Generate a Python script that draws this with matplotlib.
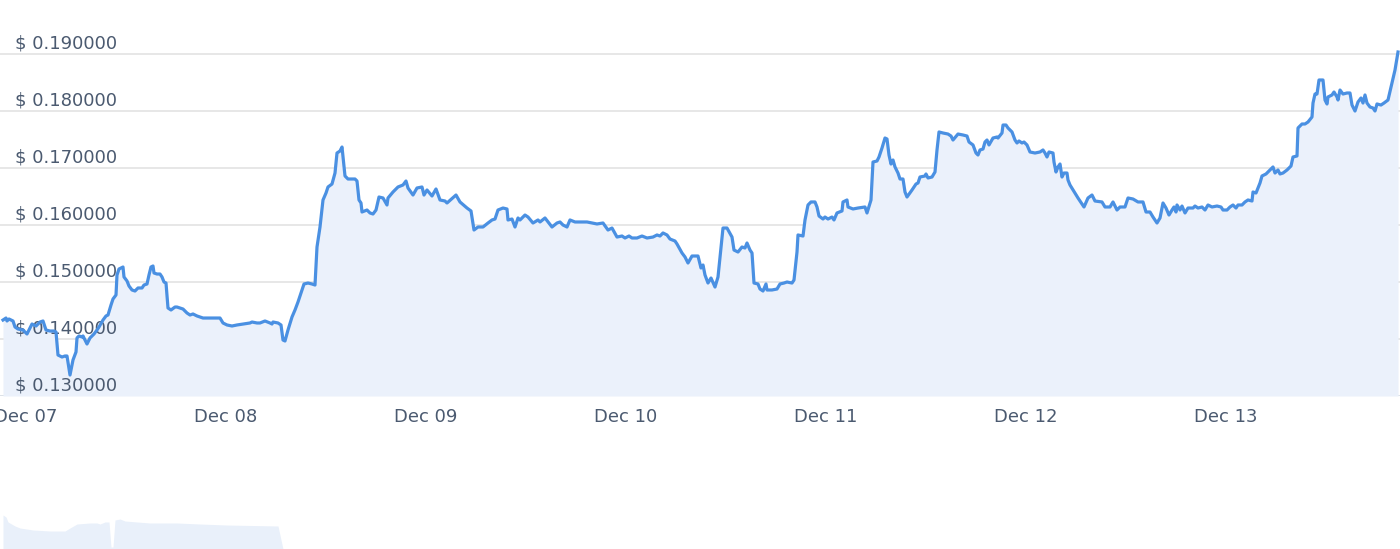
import matplotlib
matplotlib.use("Agg")
import matplotlib.pyplot as plt
from matplotlib.transforms import blended_transform_factory, offset_copy

# hours since Dec 07 00:00
hours = [-2.76, -2.4, -2.28, -2.04, -1.56, -1.32, -0.96, -0.36, 0.12, 0.48, 0.72, 1.2, 1.68, 2.04, 2.4, 2.88,
         3.36, 3.6, 3.84, 4.32, 4.68, 4.92, 5.28, 5.64, 6.0, 6.12, 6.36, 6.72, 6.84, 7.32, 7.68, 8.16, 8.52,
         8.76, 9.24, 9.6, 9.84, 10.2, 10.44, 10.8, 10.92, 11.16, 11.64, 11.76, 12.12, 12.36, 12.72, 13.08,
         13.44, 13.92, 14.16, 14.52, 14.76, 15.0, 15.24, 15.36, 15.72, 16.08, 16.32, 16.56, 16.8, 17.04,
         17.4, 17.88, 18.12, 18.84, 19.32, 19.68, 20.04, 20.52, 20.88, 21.24, 21.72, 22.44, 23.28, 23.64,
         24.12, 24.72, 25.32, 26.04, 26.88, 27.12, 27.72, 28.08, 28.68, 29.28, 29.52, 29.64, 30.24, 30.6,
         30.84, 31.08, 31.44, 31.92, 32.28, 32.64, 33.12, 33.36, 33.84, 34.32, 34.68, 34.92, 35.28, 35.64,
         36.0, 36.24, 36.72, 37.08, 37.32, 37.68, 37.92, 38.28, 38.64, 39.48, 39.72, 39.96, 40.2, 40.32,
         40.92, 41.28, 41.64, 42.0, 42.36, 42.84, 43.32, 43.44, 44.04, 44.64, 45.24, 45.6, 45.84, 46.44,
         46.92, 47.52, 47.76, 48.12, 48.72, 49.2, 49.68, 50.28, 50.52, 51.6, 52.08, 52.92, 53.4, 53.76,
         54.24, 54.84, 55.44, 55.92, 56.28, 56.64, 57.24, 57.72, 57.84, 58.32, 58.68, 59.04, 59.28, 59.88,
         60.24, 60.84, 61.44, 61.68, 62.28, 63.12, 63.72, 64.08, 64.44, 64.92, 65.28, 65.88, 66.48, 67.32,
         67.92, 68.52, 69.24, 69.84, 70.32, 70.92, 71.52, 71.88, 72.36, 72.72, 73.32, 73.92, 74.52, 75.24,
         75.72, 76.08, 76.44, 76.92, 77.28, 77.88, 78.12, 78.72, 79.08, 79.44, 79.92, 80.64, 81.0, 81.24,
         81.48, 81.84, 82.2, 82.68, 83.04, 83.64, 84.12, 84.72, 84.96, 85.44, 85.92, 86.28, 86.52, 86.88,
         87.12, 87.36, 87.84, 88.08, 88.44, 88.8, 88.92, 89.52, 90.12, 90.48, 90.96, 91.32, 91.92, 92.16,
         92.52, 92.64, 93.24, 93.48, 93.84, 94.2, 94.68, 94.92, 95.16, 95.64, 95.88, 96.24, 96.72, 96.96,
         97.32, 97.92, 98.04, 98.52, 98.64, 99.24, 99.84, 100.68, 100.92, 101.4, 101.64, 102.12, 102.36,
         102.72, 103.08, 103.32, 103.56, 103.8, 104.04, 104.28, 104.64, 104.88, 105.24, 105.48, 105.72,
         106.32, 106.8, 107.04, 107.28, 107.88, 108.0, 108.24, 108.72, 109.08, 109.32, 109.56, 110.04,
         110.64, 111.0, 111.24, 111.84, 112.44, 112.92, 113.16, 113.64, 114.0, 114.24, 114.48, 114.84,
         115.08, 115.32, 115.56, 116.04, 116.52, 116.64, 117.12, 117.24, 117.6, 117.84, 118.32, 118.68,
         118.92, 119.16, 119.52, 119.76, 120.12, 120.48, 121.08, 121.68, 122.04, 122.28, 122.52, 122.76,
         123.24, 123.36, 123.6, 123.84, 124.08, 124.32, 124.56, 124.92, 125.04, 125.28, 125.88, 126.24,
         126.72, 126.96, 127.44, 127.92, 128.28, 129.12, 129.48, 130.08, 130.44, 130.92, 131.28, 131.88,
         132.24, 132.84, 133.44, 134.04, 134.4, 134.88, 135.24, 135.72, 136.08, 136.44, 136.8, 137.16,
         137.52, 137.76, 138.0, 138.12, 138.48, 138.72, 139.08, 139.44, 140.04, 140.28, 140.64, 141.12,
         141.48, 141.84, 142.32, 142.92, 143.4, 143.64, 144.12, 144.48, 144.84, 145.2, 145.44, 145.92,
         146.28, 146.64, 147.12, 147.24, 147.6, 148.08, 148.32, 148.8, 149.04, 149.64, 149.88, 150.24,
         150.48, 150.84, 151.32, 151.8, 152.04, 152.52, 152.64, 153.12, 153.48, 153.84, 154.32, 154.44,
         154.68, 154.92, 155.16, 155.64, 155.88, 156.12, 156.24, 156.72, 156.96, 157.32, 157.44, 157.68,
         158.04, 158.52, 158.88, 159.12, 159.48, 159.84, 160.2, 160.44, 160.68, 160.92, 161.28, 161.64,
         161.88, 162.12, 162.6, 162.96, 163.44, 163.92, 164.28, 164.64]

price = [0.14333, 0.14368, 0.14316, 0.14351, 0.14316, 0.14211, 0.14175, 0.14158, 0.14088, 0.14193, 0.14263,
         0.14228, 0.14298, 0.14316, 0.14158, 0.14140, 0.14140, 0.14123, 0.13719, 0.13684, 0.13702, 0.13702,
         0.13368, 0.13632, 0.13772, 0.14018, 0.14053, 0.14035, 0.14053, 0.13912, 0.14018, 0.14088, 0.14158,
         0.14211, 0.14333, 0.14404, 0.14421, 0.14596, 0.14702, 0.14772, 0.15123, 0.15228, 0.15263, 0.15088,
         0.15018, 0.14930, 0.14860, 0.14842, 0.14895, 0.14895, 0.14947, 0.14965, 0.15123, 0.15263, 0.15281,
         0.15158, 0.15140, 0.15140, 0.15088, 0.15000, 0.14982, 0.14544, 0.14509, 0.14561, 0.14561, 0.14526,
         0.14456, 0.14421, 0.14439, 0.14404, 0.14386, 0.14368, 0.14368, 0.14368, 0.14368, 0.14281, 0.14246,
         0.14228, 0.14246, 0.14263, 0.14281, 0.14298, 0.14281, 0.14281, 0.14316, 0.14281, 0.14263, 0.14298,
         0.14281, 0.14246, 0.13982, 0.13965, 0.14158, 0.14386, 0.14509, 0.14649, 0.14860, 0.14965, 0.14982,
         0.14965, 0.14947, 0.15614, 0.15965, 0.16439, 0.16561, 0.16667, 0.16719, 0.16912, 0.17263, 0.17298,
         0.17368, 0.16860, 0.16807, 0.16807, 0.16772, 0.16439, 0.16386, 0.16228, 0.16263, 0.16211, 0.16193,
         0.16263, 0.16491, 0.16474, 0.16351, 0.16474, 0.16579, 0.16667, 0.16702, 0.16772, 0.16649, 0.16526,
         0.16649, 0.16667, 0.16526, 0.16614, 0.16509, 0.16632, 0.16439, 0.16421, 0.16386, 0.16526, 0.16404,
         0.16298, 0.16246, 0.15912, 0.15965, 0.15965, 0.16035, 0.16088, 0.16105, 0.16263, 0.16298, 0.16281,
         0.16088, 0.16105, 0.15965, 0.16123, 0.16088, 0.16175, 0.16140, 0.16035, 0.16088, 0.16053, 0.16123,
         0.15965, 0.16035, 0.16053, 0.16000, 0.15965, 0.16088, 0.16053, 0.16053, 0.16053, 0.16035, 0.16018,
         0.16035, 0.15912, 0.15947, 0.15789, 0.15807, 0.15772, 0.15807, 0.15772, 0.15772, 0.15807, 0.15772,
         0.15789, 0.15825, 0.15807, 0.15860, 0.15825, 0.15754, 0.15719, 0.15667, 0.15509, 0.15439, 0.15333,
         0.15456, 0.15456, 0.15246, 0.15298, 0.15123, 0.14982, 0.15070, 0.14912, 0.15088, 0.15947, 0.15947,
         0.15789, 0.15561, 0.15526, 0.15614, 0.15596, 0.15684, 0.15561, 0.15509, 0.14982, 0.14965, 0.14877,
         0.14842, 0.14965, 0.14860, 0.14860, 0.14877, 0.14965, 0.14982, 0.15000, 0.14982, 0.15035, 0.15526,
         0.15825, 0.15807, 0.16088, 0.16351, 0.16404, 0.16404, 0.16316, 0.16158, 0.16105, 0.16140, 0.16105,
         0.16140, 0.16088, 0.16211, 0.16246, 0.16404, 0.16439, 0.16316, 0.16281, 0.16298, 0.16316, 0.16211,
         0.16439, 0.17105, 0.17123, 0.17193, 0.17351, 0.17526, 0.17509, 0.17228, 0.17070, 0.17140, 0.17018,
         0.16912, 0.16807, 0.16807, 0.16579, 0.16491, 0.16614, 0.16719, 0.16737, 0.16842, 0.16860, 0.16895,
         0.16825, 0.16842, 0.16930, 0.17316, 0.17632, 0.17614, 0.17596, 0.17561, 0.17491, 0.17596, 0.17579,
         0.17561, 0.17456, 0.17404, 0.17263, 0.17228, 0.17316, 0.17333, 0.17456, 0.17491, 0.17404, 0.17526,
         0.17544, 0.17526, 0.17614, 0.17754, 0.17754, 0.17702, 0.17632, 0.17491, 0.17439, 0.17474, 0.17439,
         0.17456, 0.17404, 0.17281, 0.17263, 0.17281, 0.17316, 0.17263, 0.17193, 0.17281, 0.17263, 0.17105,
         0.16930, 0.17018, 0.17070, 0.16842, 0.16912, 0.16912, 0.16789, 0.16702, 0.16561, 0.16474, 0.16368,
         0.16316, 0.16474, 0.16526, 0.16421, 0.16404, 0.16316, 0.16316, 0.16404, 0.16263, 0.16316, 0.16316,
         0.16474, 0.16456, 0.16404, 0.16404, 0.16228, 0.16228, 0.16140, 0.16035, 0.16123, 0.16386, 0.16298,
         0.16175, 0.16263, 0.16316, 0.16228, 0.16351, 0.16263, 0.16333, 0.16211, 0.16298, 0.16298, 0.16333,
         0.16298, 0.16316, 0.16263, 0.16351, 0.16316, 0.16333, 0.16316, 0.16263, 0.16263, 0.16316, 0.16351,
         0.16298, 0.16351, 0.16351, 0.16404, 0.16439, 0.16421, 0.16579, 0.16561, 0.16737, 0.16860, 0.16895,
         0.16930, 0.17018, 0.16912, 0.16965, 0.16895, 0.16912, 0.16965, 0.17035, 0.17193, 0.17211, 0.17702,
         0.17772, 0.17772, 0.17807, 0.17895, 0.18140, 0.18298, 0.18298, 0.18544, 0.18544, 0.18193, 0.18123,
         0.18246, 0.18281, 0.18333, 0.18246, 0.18193, 0.18368, 0.18298, 0.18316, 0.18316, 0.18105, 0.18000,
         0.18158, 0.18228, 0.18140, 0.18281, 0.18140, 0.18070, 0.18053, 0.18000, 0.18123, 0.18105, 0.18140,
         0.18193, 0.18491, 0.18719, 0.19035]

y_ticks = [0.13, 0.14, 0.15, 0.16, 0.17, 0.18, 0.19]
x_tick_hours = [0, 24, 48, 72, 96, 120, 144]
x_tick_labels = ["Dec 07", "Dec 08", "Dec 09", "Dec 10", "Dec 11", "Dec 12", "Dec 13"]

# navigator fragment (bottom)
nav_hours = [-2.76, -2.4, -2.16, -1.32, -0.72, 0.84, 2.88, 4.68, 5.28, 6.12, 7.68, 8.52, 8.88, 9.48,
             9.96, 10.2, 10.44, 10.68, 11.28, 11.88, 13.32, 14.88, 18.12, 20.88, 24.12, 30.24, 30.84]
nav_level = [0.773, 0.727, 0.614, 0.523, 0.477, 0.432, 0.409, 0.409, 0.477, 0.568, 0.591, 0.591, 0.568,
             0.614, 0.614, 0.045, 0.045, 0.659, 0.682, 0.636, 0.614, 0.591, 0.591, 0.568, 0.545, 0.523, 0.0]

LINE = "#4a90e2"
FILL = "#ebf1fb"
TEXT = "#4b5a70"
GRID = "#e3e3e3"

W, H = 1400, 549
fig = plt.figure(figsize=(14, 5.49), dpi=100)

x0, x1 = -3.12, 164.88
# main axes: bottom at y=396 px, top at y=40 px
ax = fig.add_axes([0, (H - 396) / H, 1, (396 - 40) / H])
ax.set_xlim(x0, x1)
ax.set_ylim(0.13, 0.13 + (396 - 40) / 5700)
for s in ax.spines.values():
    s.set_visible(False)

for v in y_ticks:
    ax.axhline(v, color=GRID if v != 0.13 else "#d6dbe3", lw=1.2, zorder=0)

ax.fill_between(hours, price, 0.13, color=FILL, lw=0, zorder=1)
ax.plot(hours, price, color=LINE, lw=2.3, zorder=3, solid_joinstyle="round")

ax.set_yticks([])
ax.set_xticks(x_tick_hours)
ax.set_xticklabels(x_tick_labels)
ax.tick_params(axis="x", length=0, pad=9, labelsize=13, labelcolor=TEXT)

trans = blended_transform_factory(ax.transAxes, ax.transData)
trans = offset_copy(trans, fig=fig, x=0, y=0.8, units="points")
for v in y_ticks:
    ax.text(15 / W, v, f"$ {v:.6f}", transform=trans, ha="left", va="bottom",
            fontsize=13, color=TEXT, zorder=2)

# navigator
nav = fig.add_axes([0, 0, 1, 44 / H])
nav.set_xlim(x0, x1)
nav.set_ylim(0, 1)
nav.fill_between(nav_hours, nav_level, 0, color="#e9f0fa", lw=0)
nav.axis("off")

fig.savefig("out.png", dpi=100)
